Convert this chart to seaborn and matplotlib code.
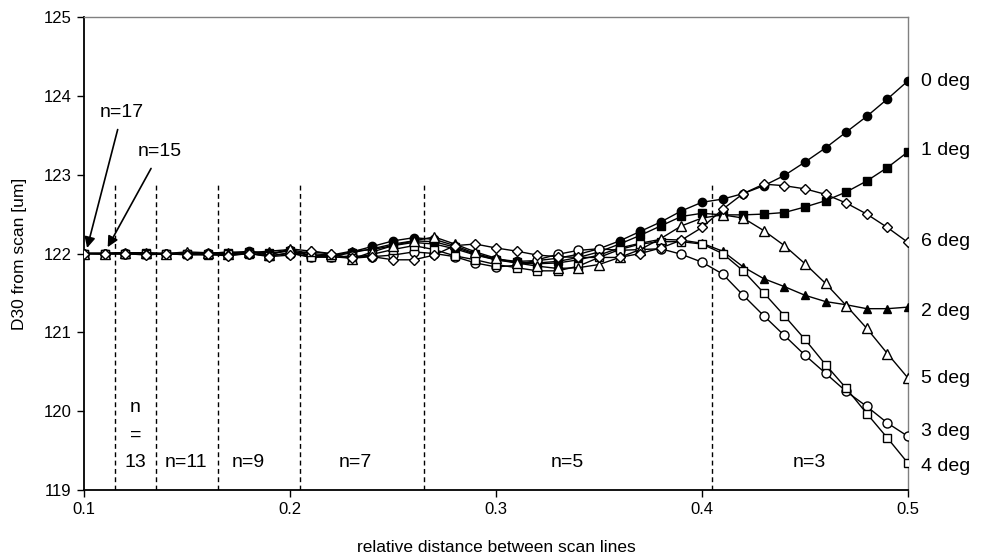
import numpy as np
import pandas as pd
import matplotlib
matplotlib.use("Agg")
import matplotlib.pyplot as plt
import seaborn as sns

x_vals = [round(0.10 + 0.01 * i, 2) for i in range(41)]

deg0 = [122.00, 122.00, 122.01, 122.00, 122.00, 121.99, 122.01, 122.00, 122.03, 121.99,
        122.04, 121.98, 121.97, 122.02, 122.09, 122.16, 122.20, 122.18, 122.10, 122.00,
        121.93, 121.90, 121.91, 121.94, 121.99, 122.06, 122.16, 122.28, 122.40, 122.54,
        122.65, 122.69, 122.76, 122.86, 122.99, 123.16, 123.34, 123.54, 123.74, 123.96, 124.19]
deg1 = [122.00, 122.00, 122.00, 122.01, 121.99, 122.00, 122.00, 122.01, 122.02, 122.01,
        122.03, 121.97, 121.96, 122.01, 122.06, 122.12, 122.16, 122.15, 122.08, 121.99,
        121.92, 121.89, 121.88, 121.90, 121.95, 122.02, 122.12, 122.23, 122.35, 122.47,
        122.51, 122.49, 122.49, 122.50, 122.52, 122.59, 122.67, 122.78, 122.92, 123.09, 123.29]
deg2 = [122.00, 122.00, 122.01, 122.00, 122.00, 122.01, 122.00, 122.02, 122.01, 122.03,
        122.05, 122.00, 121.98, 122.03, 122.05, 122.10, 122.14, 122.12, 122.06, 121.98,
        121.92, 121.88, 121.87, 121.88, 121.92, 121.98, 122.07, 122.13, 122.18, 122.17,
        122.13, 122.03, 121.83, 121.68, 121.58, 121.47, 121.39, 121.35, 121.30, 121.30, 121.32]
deg3 = [122.00, 122.00, 121.99, 122.00, 121.99, 122.00, 121.99, 121.98, 122.00, 121.97,
        122.00, 121.96, 121.95, 121.97, 121.96, 121.98, 122.02, 122.00, 121.96, 121.88,
        121.83, 121.85, 121.92, 121.99, 122.04, 122.06, 122.04, 122.05, 122.06, 121.99,
        121.89, 121.74, 121.47, 121.21, 120.96, 120.71, 120.48, 120.25, 120.06, 119.85, 119.68]
deg4 = [122.00, 122.00, 122.00, 121.99, 122.00, 121.99, 121.98, 121.99, 122.00, 121.97,
        122.01, 121.95, 121.96, 121.94, 121.99, 122.05, 122.10, 122.05, 121.97, 121.92,
        121.86, 121.82, 121.78, 121.78, 121.84, 121.95, 122.05, 122.12, 122.15, 122.15,
        122.12, 122.00, 121.78, 121.50, 121.21, 120.91, 120.59, 120.29, 119.97, 119.66, 119.34]
deg5 = [122.00, 122.00, 122.01, 122.01, 122.00, 122.02, 122.01, 121.99, 122.02, 121.98,
        122.06, 122.03, 122.00, 121.93, 122.02, 122.10, 122.16, 122.21, 122.12, 122.02,
        121.94, 121.88, 121.84, 121.81, 121.82, 121.86, 121.95, 122.05, 122.19, 122.35,
        122.45, 122.49, 122.45, 122.29, 122.10, 121.87, 121.62, 121.34, 121.05, 120.73, 120.42]
deg6 = [122.00, 121.99, 122.00, 121.98, 122.00, 121.98, 121.99, 121.97, 122.00, 121.96,
        121.98, 122.03, 121.99, 121.94, 121.96, 121.92, 121.92, 121.98, 122.10, 122.12,
        122.07, 122.03, 121.98, 121.96, 121.95, 121.95, 121.95, 122.00, 122.07, 122.17,
        122.33, 122.56, 122.76, 122.88, 122.86, 122.82, 122.75, 122.64, 122.50, 122.33, 122.14]

series_names = ["0 deg", "1 deg", "2 deg", "3 deg", "4 deg", "5 deg", "6 deg"]
series_vals = [deg0, deg1, deg2, deg3, deg4, deg5, deg6]
label_y = [124.18, 123.31, 121.27, 119.74, 119.30, 120.42, 122.15]

region_bounds = [0.115, 0.135, 0.165, 0.205, 0.265, 0.405]
region_labels = ["n=11", "n=9", "n=7", "n=5", "n=3"]
region_label_x = [0.1495, 0.1796, 0.2316, 0.3345, 0.452]

df = pd.DataFrame({
    "x": np.tile(x_vals, len(series_names)),
    "y": np.concatenate(series_vals),
    "series": np.repeat(series_names, len(x_vals)),
})

sns.set_style("white")
plt.rcParams["font.family"] = ["Liberation Sans", "DejaVu Sans"]
plt.rcParams["text.color"] = "black"
plt.rcParams["axes.labelcolor"] = "black"
plt.rcParams["xtick.color"] = "black"
plt.rcParams["ytick.color"] = "black"

fig = plt.figure(figsize=(9.85, 5.58), dpi=100)
ax = fig.add_axes([84 / 985, 1 - 490 / 558, (908 - 84) / 985, (490 - 17) / 558])

styles = {
    "0 deg": dict(marker="o", mfc="black", ms=6),
    "1 deg": dict(marker="s", mfc="black", ms=5.5),
    "2 deg": dict(marker="^", mfc="black", ms=6),
    "3 deg": dict(marker="o", mfc="white", ms=6.5),
    "4 deg": dict(marker="s", mfc="white", ms=6),
    "5 deg": dict(marker="^", mfc="white", ms=6.5),
    "6 deg": dict(marker="D", mfc="white", ms=5),
}

for name in series_names:
    st = styles[name]
    sub = df[df["series"] == name]
    sns.lineplot(data=sub, x="x", y="y", ax=ax, color="black", linewidth=1.0,
                 marker=st["marker"], markerfacecolor=st["mfc"], markeredgecolor="black",
                 markersize=st["ms"], markeredgewidth=1.0, legend=False, zorder=3)

for name, ly in zip(series_names, label_y):
    ax.text(0.5065, ly, name, fontsize=14, va="center", ha="left", clip_on=False)

ax.vlines(region_bounds, 119, 122.9, colors="black", linestyles=(0, (3.5, 2.5)), linewidth=1.0, zorder=1)

for lab, lx in zip(region_labels, region_label_x):
    ax.text(lx, 119.35, lab, fontsize=14, ha="center", va="center")
ax.text(0.125, 120.05, "n", fontsize=14, ha="center", va="center")
ax.text(0.125, 119.70, "=", fontsize=14, ha="center", va="center")
ax.text(0.125, 119.35, "13", fontsize=14, ha="center", va="center")

ax.annotate("n=17", xy=(0.1015, 122.07), xytext=(0.1185, 123.79), fontsize=14,
            ha="center", va="center",
            arrowprops=dict(arrowstyle="-|>", color="black", lw=1.2, mutation_scale=16,
                            shrinkA=4, shrinkB=0))
ax.annotate("n=15", xy=(0.1115, 122.08), xytext=(0.137, 123.29), fontsize=14,
            ha="center", va="center",
            arrowprops=dict(arrowstyle="-|>", color="black", lw=1.2, mutation_scale=16,
                            shrinkA=4, shrinkB=0))

ax.set_xlim(0.1, 0.5)
ax.set_ylim(119, 125)
ax.set_xticks([0.1, 0.2, 0.3, 0.4, 0.5])
ax.set_xticklabels(["0.1", "0.2", "0.3", "0.4", "0.5"])
ax.set_yticks([119, 120, 121, 122, 123, 124, 125])
ax.tick_params(axis="both", direction="out", length=5, width=1, labelsize=12,
               bottom=True, left=True, colors="black", pad=4)
ax.set_xlabel("relative distance between scan lines", fontsize=12.5, labelpad=16)
ax.set_ylabel("D30 from scan [um]", fontsize=12.5, labelpad=12)

for s in ["left", "bottom"]:
    ax.spines[s].set_color("black")
    ax.spines[s].set_linewidth(1.3)
for s in ["top", "right"]:
    ax.spines[s].set_color("#808080")
    ax.spines[s].set_linewidth(1.0)
ax.grid(False)

fig.savefig("out.png", dpi=100)
